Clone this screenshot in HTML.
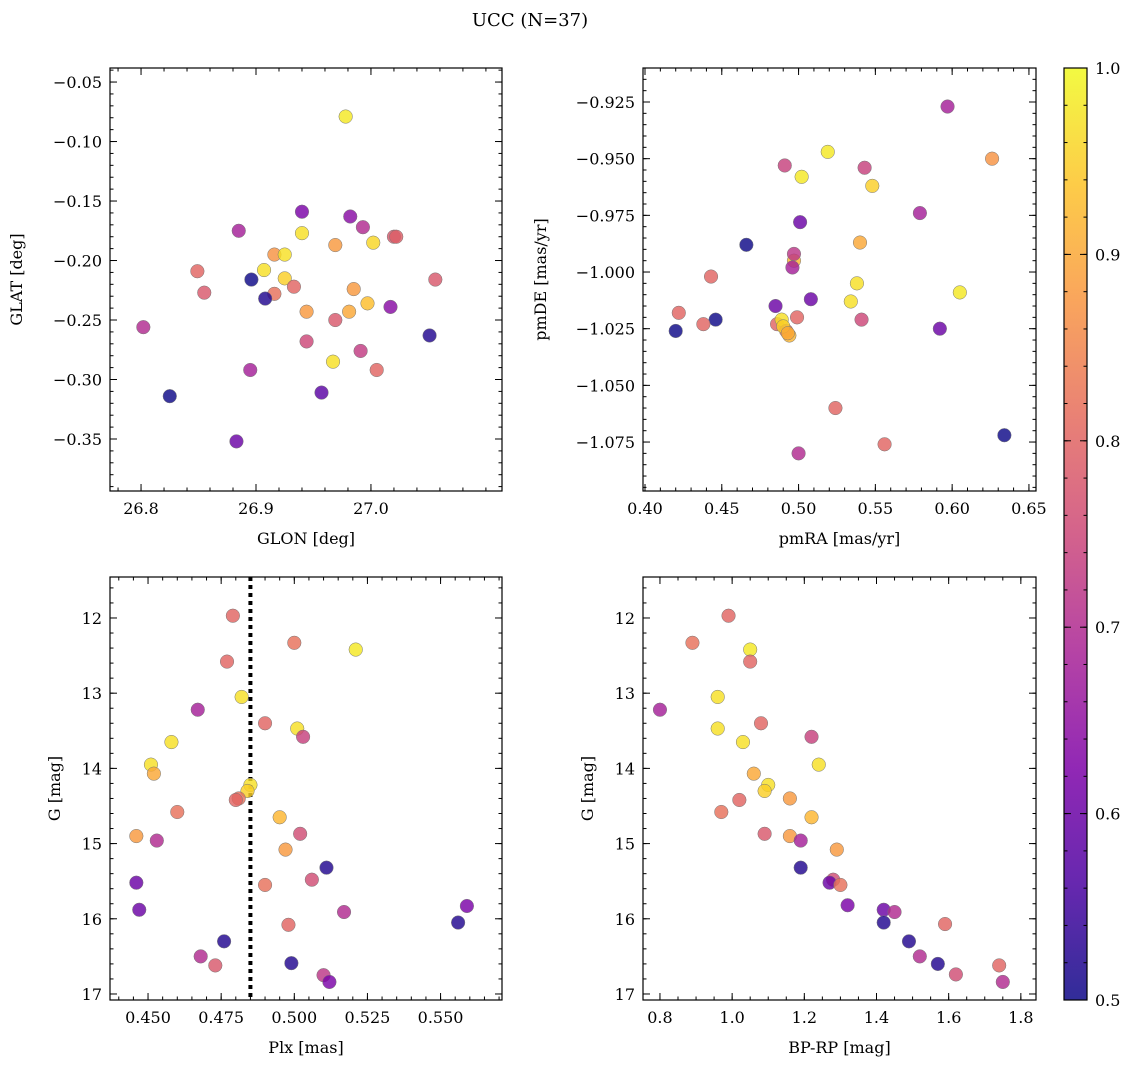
<!DOCTYPE html>
<html><head><meta charset="utf-8">
<style>
html,body{margin:0;padding:0;background:#fff;}
svg text{font-family:"DejaVu Serif","Liberation Serif",serif;fill:#000;}
</style></head>
<body>
<svg id="fig" width="1136" height="1067" viewBox="0 0 1136 1067" xmlns="http://www.w3.org/2000/svg">
<defs>
<linearGradient id="plasma" x1="0" y1="1" x2="0" y2="0">
<stop offset="0" stop-color="#0d0887"/><stop offset="0.125" stop-color="#4c02a1"/>
<stop offset="0.25" stop-color="#7e03a8"/><stop offset="0.375" stop-color="#a92395"/>
<stop offset="0.5" stop-color="#cc4778"/><stop offset="0.625" stop-color="#e56b5d"/>
<stop offset="0.75" stop-color="#f89540"/><stop offset="0.875" stop-color="#fdc328"/>
<stop offset="1" stop-color="#f0f921"/></linearGradient>
</defs>
<text x="530" y="26" font-size="18" text-anchor="middle">UCC (N=37)</text>
</svg>
<script>
// Panel 1: GLON / GLAT
const p1X=[26.978,26.940,26.982,26.993,26.885,26.940,27.020,26.969,27.002,26.916,26.925,26.849,26.907,26.896,26.925,27.056,26.855,26.933,26.985,26.916,26.908,26.997,27.017,26.944,26.981,26.969,26.802,27.051,26.944,26.991,26.967,27.005,26.895,26.957,26.825,26.883,27.022];
const p1Y=[-0.079,-0.159,-0.163,-0.172,-0.175,-0.177,-0.180,-0.187,-0.185,-0.195,-0.195,-0.209,-0.208,-0.216,-0.215,-0.216,-0.227,-0.222,-0.224,-0.228,-0.232,-0.236,-0.239,-0.243,-0.243,-0.250,-0.256,-0.263,-0.268,-0.276,-0.285,-0.292,-0.292,-0.311,-0.314,-0.352,-0.180];
const p1C=[0.98,0.62,0.64,0.70,0.68,0.97,0.78,0.88,0.96,0.87,0.97,0.80,0.97,0.50,0.95,0.78,0.78,0.80,0.88,0.82,0.52,0.93,0.64,0.88,0.90,0.78,0.70,0.52,0.75,0.73,0.97,0.80,0.68,0.58,0.50,0.60,0.79];
// Panel 2: pmRA / pmDE
const p2X=[0.422,0.446,0.438,0.420,0.485,0.486,0.489,0.492,0.494,0.499,0.541,0.592,0.634,0.524,0.556,0.500,0.466,0.443,0.508,0.534,0.538,0.605,0.497,0.496,0.497,0.540,0.501,0.579,0.548,0.502,0.491,0.543,0.519,0.626,0.597,0.490,0.493];
const p2Y=[-1.018,-1.021,-1.023,-1.026,-1.015,-1.023,-1.021,-1.026,-1.028,-1.020,-1.021,-1.025,-1.072,-1.060,-1.076,-1.080,-0.988,-1.002,-1.012,-1.013,-1.005,-1.009,-0.995,-0.998,-0.992,-0.987,-0.978,-0.974,-0.962,-0.958,-0.953,-0.954,-0.947,-0.950,-0.927,-1.024,-1.027];
const p2C=[0.80,0.50,0.80,0.50,0.60,0.80,0.97,0.80,0.92,0.80,0.75,0.60,0.50,0.80,0.80,0.70,0.50,0.80,0.60,0.97,0.97,0.98,0.92,0.68,0.72,0.90,0.60,0.68,0.95,0.98,0.74,0.74,0.98,0.87,0.68,0.95,0.90];
// Panels 3 & 4: Plx, BP-RP vs G
const gMag=[11.97,12.33,12.42,12.58,13.05,13.22,13.40,13.47,13.58,13.65,13.95,14.07,14.22,14.30,14.40,14.42,14.58,14.65,14.90,14.96,14.87,15.08,15.32,15.48,15.52,15.55,15.83,15.88,15.91,16.05,16.08,16.30,16.50,16.62,16.59,16.75,16.84];
const plx=[0.479,0.500,0.521,0.477,0.482,0.467,0.490,0.501,0.503,0.458,0.451,0.452,0.485,0.484,0.481,0.480,0.460,0.495,0.446,0.453,0.502,0.497,0.511,0.506,0.446,0.490,0.559,0.447,0.517,0.556,0.498,0.476,0.468,0.473,0.499,0.510,0.512];
const p3C=[0.80,0.82,0.98,0.80,0.97,0.68,0.80,0.97,0.74,0.97,0.97,0.90,0.97,0.95,0.82,0.80,0.82,0.92,0.88,0.70,0.76,0.88,0.52,0.76,0.60,0.82,0.62,0.60,0.70,0.52,0.80,0.52,0.70,0.78,0.52,0.72,0.62];
const g4=[11.97,12.33,12.42,12.58,13.05,13.22,13.40,13.47,13.58,13.65,13.95,14.07,14.22,14.30,14.40,14.42,14.58,14.65,14.90,14.87,14.96,15.08,15.32,15.48,15.52,15.55,15.82,15.88,15.91,16.07,16.05,16.30,16.50,16.60,16.74,16.62,16.84];
const bprp=[0.99,0.89,1.05,1.05,0.96,0.80,1.08,0.96,1.22,1.03,1.24,1.06,1.10,1.09,1.16,1.02,0.97,1.22,1.16,1.09,1.19,1.29,1.19,1.28,1.27,1.30,1.32,1.42,1.45,1.59,1.42,1.49,1.52,1.57,1.62,1.74,1.75];
const p4C=[0.80,0.82,0.98,0.80,0.97,0.68,0.80,0.97,0.74,0.97,0.97,0.90,0.97,0.95,0.88,0.80,0.82,0.92,0.88,0.78,0.68,0.88,0.52,0.76,0.60,0.82,0.62,0.60,0.70,0.80,0.52,0.52,0.70,0.52,0.76,0.80,0.70];
const plxLine=0.485;

const NS="http://www.w3.org/2000/svg";
const svg=document.getElementById('fig');
function mk(tag,attrs,parent){const e=document.createElementNS(NS,tag);for(const k in attrs)e.setAttribute(k,attrs[k]);(parent||svg).appendChild(e);return e;}
const stops=[[0,[13,8,135]],[0.125,[76,2,161]],[0.25,[126,3,168]],[0.375,[169,35,149]],[0.5,[204,71,120]],[0.625,[229,107,93]],[0.75,[248,149,64]],[0.875,[253,195,40]],[1,[240,249,33]]];
function plasma(v){let t=(v-0.5)/0.5;t=Math.max(0,Math.min(1,t));for(let i=1;i<stops.length;i++){if(t<=stops[i][0]){const a=stops[i-1],b=stops[i];const f=(t-a[0])/(b[0]-a[0]);const c=a[1].map((x,j)=>Math.round(x+(b[1][j]-x)*f));return `rgb(${c.join(',')})`;}}return 'rgb(240,249,33)';}
function fmt(v,d){const s=Math.abs(v).toFixed(d);return (v<-1e-9?'\u2212':'')+s;}

function panel(o){
  const g=mk('g',{});
  
  
  const sx=v=>o.x0+(v-o.xmin)/(o.xmax-o.xmin)*(o.x1-o.x0);
  const sy=v=>o.invert? o.y0+(v-o.ymin)/(o.ymax-o.ymin)*(o.y1-o.y0) : o.y1-(v-o.ymin)/(o.ymax-o.ymin)*(o.y1-o.y0);
  const tg=mk('g',{stroke:'#000','stroke-width':1},g);
  function ticksX(list,len){list.forEach(v=>{const x=sx(v);if(x<o.x0-0.5||x>o.x1+0.5)return;mk('line',{x1:x,x2:x,y1:o.y1,y2:o.y1-len},tg);mk('line',{x1:x,x2:x,y1:o.y0,y2:o.y0+len},tg);});}
  function ticksY(list,len){list.forEach(v=>{const y=sy(v);if(y<o.y0-0.5||y>o.y1+0.5)return;mk('line',{x1:o.x0,x2:o.x0+len,y1:y,y2:y},tg);mk('line',{x1:o.x1,x2:o.x1-len,y1:y,y2:y},tg);});}
  const range=(a,b,s)=>{const r=[];for(let v=a;v<=b+s*1e-6;v+=s)r.push(+v.toFixed(6));return r;};
  ticksX(range(o.xminor[0],o.xminor[1],o.xminor[2]),3.5);
  ticksY(range(o.yminor[0],o.yminor[1],o.yminor[2]),3.5);
  ticksX(o.xt,7);ticksY(o.yt,7);
  o.xt.forEach(v=>{const t=mk('text',{x:sx(v),y:o.y1+23,'font-size':16,'text-anchor':'middle'},g);t.textContent=fmt(v,o.xd);
    
    });
  o.yt.forEach(v=>{const t=mk('text',{x:o.x0-8,y:sy(v)+6,'font-size':16,'text-anchor':'end'},g);t.textContent=fmt(v,o.yd);
    
    });
  const xl=mk('text',{x:(o.x0+o.x1)/2,y:o.y1+53,'font-size':16,'text-anchor':'middle'},g);xl.textContent=o.xlabel;
  
  
  const yl=mk('text',{x:0,y:0,'font-size':16,'text-anchor':'middle',transform:`translate(${o.ylx},${(o.y0+o.y1)/2}) rotate(-90)`},g);yl.textContent=o.ylabel;
  
  
  if(o.vline!==undefined){const l=mk('line',{x1:sx(o.vline),x2:sx(o.vline),y1:o.y0,y2:o.y1,stroke:'#000','stroke-width':4,'stroke-dasharray':'4,4'},g);
    
    }
  const pg=mk('g',{},g);
  o.xs.forEach((v,i)=>{const c=mk('circle',{cx:sx(v),cy:sy(o.ys[i]),r:6.8,fill:plasma(o.cs[i]),'fill-opacity':0.82,stroke:'#777','stroke-width':0.5},pg);
    
    });
  const fr=mk('rect',{x:o.x0,y:o.y0,width:o.x1-o.x0,height:o.y1-o.y0,fill:'none',stroke:'#000','stroke-width':1.2},g);
  
  
}
panel({name:'glon-glat-panel',x0:110,x1:502,y0:68,y1:491,xmin:26.773,xmax:27.114,ymin:-0.3937,ymax:-0.0382,
  xt:[26.8,26.9,27.0],xd:1,yt:[-0.35,-0.30,-0.25,-0.20,-0.15,-0.10,-0.05],yd:2,xminor:[26.78,27.10,0.02],yminor:[-0.39,-0.04,0.01],
  xlabel:'GLON [deg]',ylabel:'GLAT [deg]',ylx:22,xs:p1X,ys:p1Y,cs:p1C});
panel({name:'pm-panel',x0:643,x1:1036,y0:68,y1:491,xmin:0.3987,xmax:0.6546,ymin:-1.0966,ymax:-0.910,
  xt:[0.40,0.45,0.50,0.55,0.60,0.65],xd:2,yt:[-1.075,-1.050,-1.025,-1.000,-0.975,-0.950,-0.925],yd:3,xminor:[0.40,0.65,0.01],yminor:[-1.095,-0.910,0.005],
  xlabel:'pmRA [mas/yr]',ylabel:'pmDE [mas/yr]',ylx:546,xs:p2X,ys:p2Y,cs:p2C});
panel({name:'plx-g-panel',x0:110,x1:502,y0:577,y1:1000,xmin:0.437,xmax:0.571,ymin:11.455,ymax:17.08,invert:true,
  xt:[0.450,0.475,0.500,0.525,0.550],xd:3,yt:[12,13,14,15,16,17],yd:0,xminor:[0.440,0.570,0.005],yminor:[11.6,17.0,0.2],
  xlabel:'Plx [mas]',ylabel:'G [mag]',ylx:60,xs:plx,ys:gMag,cs:p3C,vline:plxLine});
panel({name:'cmd-panel',x0:643,x1:1036,y0:577,y1:1000,xmin:0.753,xmax:1.842,ymin:11.455,ymax:17.08,invert:true,
  xt:[0.8,1.0,1.2,1.4,1.6,1.8],xd:1,yt:[12,13,14,15,16,17],yd:0,xminor:[0.8,1.8,0.05],yminor:[11.6,17.0,0.2],
  xlabel:'BP-RP [mag]',ylabel:'G [mag]',ylx:593,xs:bprp,ys:g4,cs:p4C});
// colorbar
const cb=mk('g',{});


mk('rect',{x:1064,y:68,width:23,height:932,fill:'url(#plasma)','fill-opacity':0.85},cb);
mk('rect',{x:1064,y:68,width:23,height:932,fill:'none',stroke:'#000','stroke-width':1.2},cb);
const cbY=v=>1000-(v-0.5)/0.5*932;
for(let v=0.5;v<=1.0001;v+=0.02){const y=cbY(v);mk('line',{x1:1087,x2:1083.5,y1:y,y2:y,stroke:'#000'},cb);mk('line',{x1:1064,x2:1067.5,y1:y,y2:y,stroke:'#000'},cb);}
[0.5,0.6,0.7,0.8,0.9,1.0].forEach(v=>{const y=cbY(v);mk('line',{x1:1087,x2:1080,y1:y,y2:y,stroke:'#000'},cb);mk('line',{x1:1064,x2:1071,y1:y,y2:y,stroke:'#000'},cb);
  const t=mk('text',{x:1095,y:y+6,'font-size':16},cb);t.textContent=v.toFixed(1);
  
  });
</script>
</body></html>
